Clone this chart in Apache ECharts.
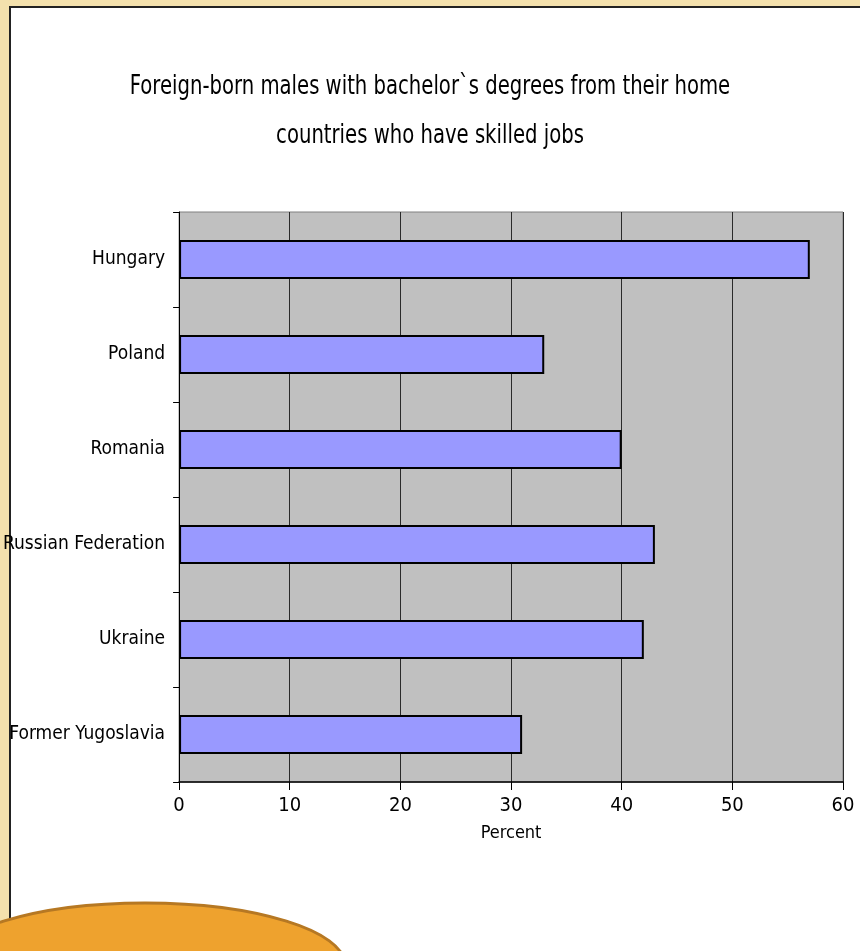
<!DOCTYPE html>
<html>
<head>
<meta charset="utf-8">
<script src="https://cdn.jsdelivr.net/npm/echarts@6/dist/echarts.min.js"></script>
<style>
  html, body { margin: 0; padding: 0; }
  #chart { width: 860px; height: 951px; }
</style>
</head>
<body>
<div id="chart"></div>
<script>
const countries = ['Hungary', 'Poland', 'Romania', 'Russian Federation', 'Ukraine', 'Former Yugoslavia'];
const percent = [57, 33, 40, 43, 42, 31];
const titleLines = ['Foreign-born males with bachelor`s degrees from their home', 'countries who have skilled jobs'];

const narrow = "'Liberation Sans Narrow', 'DejaVu Sans Condensed', sans-serif";

const chart = echarts.init(document.getElementById('chart'));

// title drawn as graphic text so it can be squeezed like the narrow original
const titleText = titleLines.map(function (line, i) {
    return {
        type: 'text',
        x: 430,
        y: 87 + i * 49,
        scaleX: 0.84,
        style: {
            text: line,
            font: '26px ' + narrow,
            fill: '#000',
            textAlign: 'center',
            textVerticalAlign: 'middle'
        }
    };
});

const option = {
    backgroundColor: '#f4e1ad',
    animation: false,
    graphic: [
        {
            type: 'rect',
            shape: { x: 10, y: 7, width: 860, height: 960 },
            style: { fill: '#ffffff', stroke: '#222', lineWidth: 2 },
            z: -10
        },
        {
            type: 'ellipse',
            shape: { cx: 145, cy: 965, rx: 200, ry: 62 },
            style: { fill: '#eea22e', stroke: '#b67823', lineWidth: 3 },
            z: 10
        }
    ].concat(titleText),
    grid: {
        left: 178,
        right: 17,
        top: 212,
        bottom: 169,
        show: true,
        backgroundColor: '#c0c0c0',
        borderColor: '#808080',
        borderWidth: 1
    },
    xAxis: {
        type: 'value',
        min: 0,
        max: 60,
        interval: 10,
        name: 'Percent',
        nameLocation: 'middle',
        nameGap: 42,
        nameTextStyle: { fontFamily: narrow, fontSize: 18, color: '#000' },
        axisLine: { show: true, lineStyle: { color: '#000', width: 1.5 } },
        axisTick: { show: true, length: 8, lineStyle: { color: '#000' } },
        axisLabel: { margin: 14, fontFamily: narrow, fontSize: 20, color: '#000' },
        splitLine: { show: true, lineStyle: { color: '#2a2a2a', width: 1 } }
    },
    yAxis: {
        type: 'category',
        data: countries,
        inverse: true,
        axisLine: { show: true, lineStyle: { color: '#000' } },
        axisTick: { show: true, length: 6, lineStyle: { color: '#000' } },
        axisLabel: { margin: 14, fontFamily: narrow, fontSize: 19, color: '#000' },
        splitLine: { show: false }
    },
    series: [
        {
            type: 'bar',
            data: percent,
            barCategoryGap: '59%',
            itemStyle: { color: '#9999ff', borderColor: '#000', borderWidth: 2 }
        }
    ]
};

chart.setOption(option);
</script>
</body>
</html>
